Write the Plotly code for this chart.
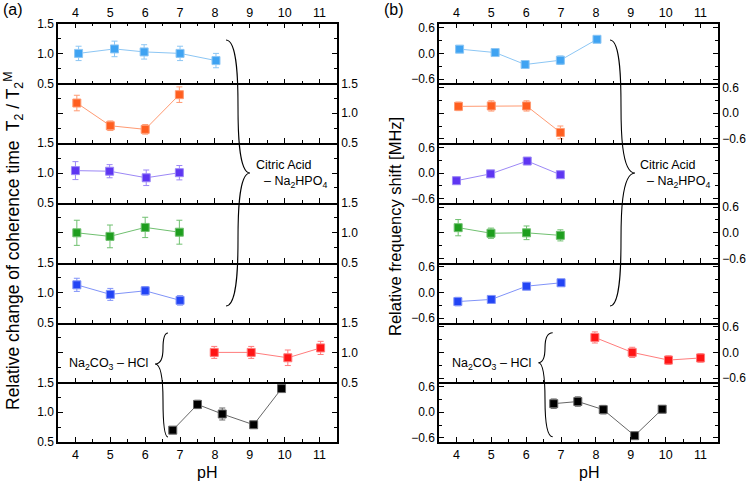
import plotly.graph_objects as go

W, H = 747, 483
FONT = "Liberation Sans, Arial, sans-serif"

# ---------------- data ----------------
x_tick_first, x_tick_step = 4, 1          # pH tick labels 4 ... 11

# panel (a): T2 / T2^M
a_lb_x = [4.09, 5.12, 5.97, 7.0, 8.03]
a_lb_y = [1.00, 1.075, 1.025, 1.00, 0.88]
a_lb_e = [0.12, 0.13, 0.12, 0.12, 0.12]

a_or_x = [4.04, 5.0, 6.0, 6.98]
a_or_y = [1.17, 0.79, 0.73, 1.31]
a_or_e = [0.13, 0.08, 0.08, 0.13]

a_pu_x = [4.0, 4.98, 6.03, 6.98]
a_pu_y = [1.04, 1.03, 0.92, 1.005]
a_pu_e = [0.15, 0.11, 0.13, 0.12]

a_gr_x = [4.04, 4.99, 6.0, 6.98]
a_gr_y = [1.0, 0.94, 1.09, 1.01]
a_gr_e = [0.21, 0.19, 0.17, 0.2]

a_bl_x = [4.04, 5.0, 6.0, 7.0]
a_bl_y = [1.13, 0.97, 1.03, 0.87]
a_bl_e = [0.11, 0.1, 0.07, 0.08]

a_rd_x = [7.98, 9.04, 10.09, 11.03]
a_rd_y = [1.0, 1.0, 0.91, 1.075]
a_rd_e = [0.1, 0.1, 0.13, 0.11]

a_bk_x = [6.79, 7.5, 8.21, 9.11, 9.91]
a_bk_y = [0.70, 1.13, 0.97, 0.79, 1.395]
a_bk_e = [0.03, 0.07, 0.1, 0.03, 0.05]

# panel (b): relative frequency shift [MHz]
b_lb_x = [4.09, 5.11, 5.97, 6.98, 8.03]
b_lb_y = [0.10, 0.02, -0.26, -0.16, 0.33]
b_lb_e = [0.07, 0.06, 0.07, 0.1, 0.07]

b_or_x = [4.06, 5.0, 6.01, 6.98]
b_or_y = [0.16, 0.17, 0.17, -0.45]
b_or_e = [0.1, 0.12, 0.12, 0.15]

b_pu_x = [4.0, 4.98, 6.03, 6.98]
b_pu_y = [-0.18, -0.02, 0.28, -0.04]
b_pu_e = [0.08, 0.08, 0.08, 0.06]

b_gr_x = [4.05, 4.99, 6.01, 6.98]
b_gr_y = [0.12, -0.01, 0.0, -0.06]
b_gr_e = [0.19, 0.12, 0.16, 0.13]

b_bl_x = [4.04, 5.0, 6.01, 7.0]
b_bl_y = [-0.21, -0.16, 0.15, 0.23]
b_bl_e = [0.1, 0.05, 0.05, 0.06]

b_rd_x = [7.97, 9.04, 10.08, 11.0]
b_rd_y = [0.35, 0.0, -0.18, -0.13]
b_rd_e = [0.13, 0.12, 0.1, 0.1]

b_bk_x = [6.79, 7.48, 8.21, 9.11, 9.9]
b_bk_y = [0.2, 0.25, 0.06, -0.55, 0.07]
b_bk_e = [0.11, 0.11, 0.1, 0.05, 0.08]

a_y_range, a_tick0, a_dtick, a_minor = [0.5, 1.5], 0.5, 0.5, 0.25
b_y_range, b_tick0, b_dtick, b_minor = [-0.7, 0.7], 0.0, 0.6, 0.3

# ---------------- styles ----------------
colors = [
    ("#3FA3F2", "#8CC6F4"),
    ("#FF5E1F", "#FF9A72"),
    ("#5E35F2", "#9C88F6"),
    ("#1E9E1E", "#70C070"),
    ("#2244F5", "#8093F8"),
    ("#FF1515", "#FF7C7C"),
    ("#000000", "#666666"),
]

panel_a = [(a_lb_x, a_lb_y, a_lb_e), (a_or_x, a_or_y, a_or_e), (a_pu_x, a_pu_y, a_pu_e),
           (a_gr_x, a_gr_y, a_gr_e), (a_bl_x, a_bl_y, a_bl_e), (a_rd_x, a_rd_y, a_rd_e),
           (a_bk_x, a_bk_y, a_bk_e)]
panel_b = [(b_lb_x, b_lb_y, b_lb_e), (b_or_x, b_or_y, b_or_e), (b_pu_x, b_pu_y, b_pu_e),
           (b_gr_x, b_gr_y, b_gr_e), (b_bl_x, b_bl_y, b_bl_e), (b_rd_x, b_rd_y, b_rd_e),
           (b_bk_x, b_bk_y, b_bk_e)]


def fx(px):
    return px / W


def fy(py):
    return 1 - py / H


x_dom_px = [(58, 337), (439, 718)]
y_top_px, row_h = 23.5, 59.8

fig = go.Figure()
layout = dict(
    template="none",
    width=W, height=H, autosize=False,
    margin=dict(l=0, r=0, t=0, b=0, pad=0, autoexpand=False),
    paper_bgcolor="white", plot_bgcolor="rgba(0,0,0,0)",
    showlegend=False,
    font=dict(family=FONT, size=12, color="black"),
)

for p, panel in enumerate([panel_a, panel_b]):
    x0, x1 = x_dom_px[p]
    for r, (xs, ys, es) in enumerate(panel):
        i = p * 7 + r + 1
        mc, lc = colors[r]
        fig.add_trace(go.Scatter(
            x=xs, y=ys, mode="lines+markers",
            line=dict(color=lc, width=1),
            marker=dict(symbol="square", size=8, color=mc, line=dict(color=lc, width=1)),
            error_y=dict(type="data", array=es, color=lc, thickness=1, width=3),
            xaxis=f"x{i}", yaxis=f"y{i}",
        ))
        top = y_top_px + r * row_h
        bot = top + row_h
        xa = dict(
            domain=[fx(x0), fx(x1)], anchor=f"y{i}", range=[3.5, 11.5],
            tickmode="linear", tick0=x_tick_first, dtick=x_tick_step,
            ticks="inside", ticklen=5, tickwidth=1.2, tickcolor="black",
            minor=dict(dtick=0.5, tick0=0, ticks="inside", ticklen=3, tickwidth=1,
                       tickcolor="black", showgrid=False),
            showline=True, linecolor="black", linewidth=1.5,
            showgrid=False, zeroline=False, automargin=False,
            tickfont=dict(size=12.5), fixedrange=True,
        )
        if r == 0:
            xa.update(side="top", mirror="ticks", showticklabels=True)
        elif r == 6:
            xa.update(side="bottom", mirror=False, showticklabels=True)
        else:
            xa.update(side="bottom", mirror=False, showticklabels=False)
        if p == 0:
            rng, t0, dt, mdt = a_y_range, a_tick0, a_dtick, a_minor
        else:
            rng, t0, dt, mdt = b_y_range, b_tick0, b_dtick, b_minor
        ya = dict(
            domain=[fy(bot), fy(top)], anchor=f"x{i}", range=rng,
            tickmode="linear", tick0=t0, dtick=dt, tickformat=".1f",
            ticks="inside", ticklen=5, tickwidth=1.2, tickcolor="black",
            minor=dict(dtick=mdt, tick0=0, ticks="inside", ticklen=3, tickwidth=1,
                       tickcolor="black", showgrid=False),
            showline=True, linecolor="black", linewidth=1.5, mirror="ticks",
            side="left" if r % 2 == 0 else "right",
            showgrid=False, zeroline=False, automargin=False,
            tickfont=dict(size=12), fixedrange=True,
        )
        layout[f"xaxis{i}"] = xa
        layout[f"yaxis{i}"] = ya


def pt(x, y):
    return f"{fx(x):.5f},{fy(y):.5f}"


def brace(ex, sx, tx, yt, ym, yb):
    d1 = (ym - yt) * 0.35
    d2 = (yb - ym) * 0.35
    m1 = (yt + ym) / 2
    m2 = (ym + yb) / 2
    return (f"M {pt(ex, yt)} C {pt(sx, yt)} {pt(sx, yt + d1)} {pt(sx, m1)} "
            f"C {pt(sx, ym - d1)} {pt(sx, ym)} {pt(tx, ym)} "
            f"C {pt(sx, ym)} {pt(sx, ym + d2)} {pt(sx, m2)} "
            f"C {pt(sx, yb - d2)} {pt(sx, yb)} {pt(ex, yb)}")


shapes = []
for path in [brace(226, 238, 250, 40, 173, 306),
             brace(610, 621, 635, 40, 173, 306),
             brace(168, 163, 155, 333, 364, 437),
             brace(552.7, 545, 538.3, 332.7, 362.7, 436.7)]:
    shapes.append(dict(type="path", path=path, xref="paper", yref="paper",
                       line=dict(color="black", width=1.1)))
layout["shapes"] = shapes


def ann(text, x, y, size=12, xanchor="center", angle=0):
    return dict(text=text, x=fx(x), y=fy(y), xref="paper", yref="paper",
                showarrow=False, xanchor=xanchor, yanchor="middle",
                textangle=angle, font=dict(family=FONT, size=size, color="black"))


layout["annotations"] = [
    ann("(a)", 13, 10, 16),
    ann("(b)", 394, 10, 16),
    ann("Relative change of coherence time  T<sub>2</sub> / T<sub>2</sub><sup>M</sup>", 13, 241, 17.5, angle=-90),
    ann("Relative frequency shift [MHz]", 395, 227, 16.5, angle=-90),
    ann("pH", 207, 472, 16),
    ann("pH", 589, 472, 16),
    ann("Citric Acid", 254, 165, 12.5, xanchor="left"),
    ann("– Na<sub>2</sub>HPO<sub>4</sub>", 329, 182, 12.5, xanchor="right"),
    ann("Citric Acid", 638, 165, 12.5, xanchor="left"),
    ann("– Na<sub>2</sub>HPO<sub>4</sub>", 712, 182, 12.5, xanchor="right"),
    ann("Na<sub>2</sub>CO<sub>3</sub> – HCl", 150, 364, 12.5, xanchor="right"),
    ann("Na<sub>2</sub>CO<sub>3</sub> – HCl", 533, 364, 12.5, xanchor="right"),
]

fig.update_layout(**layout)
fig.write_html("out.html", config={"displayModeBar": False},
               post_script="document.body.style.margin='0px';")
